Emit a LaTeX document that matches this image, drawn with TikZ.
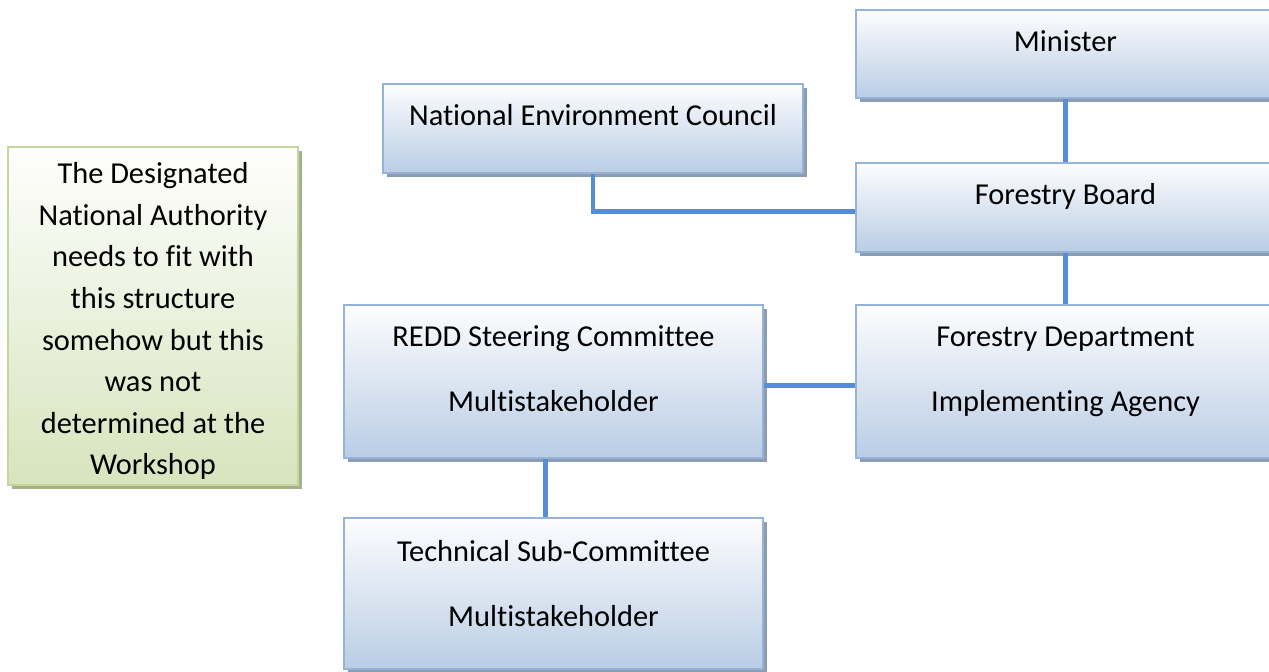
\documentclass[tikz,border=0pt]{standalone}
\usepackage{fontspec}
\setmainfont{Carlito}[Ligatures=NoCommon]
\usetikzlibrary{positioning,shadows}
\definecolor{boxline}{HTML}{95B3D7}
\definecolor{boxtop}{HTML}{FDFDFE}
\definecolor{boxbottom}{HTML}{B9CDE5}
\definecolor{boxshadow}{HTML}{8B9CB3}
\definecolor{noteline}{HTML}{C3D69B}
\definecolor{notetop}{HTML}{FEFEFD}
\definecolor{notebottom}{HTML}{D7E4BD}
\definecolor{noteshadow}{HTML}{A3B28B}
\definecolor{linkblue}{HTML}{558ED5}

\begin{document}
\begin{tikzpicture}[
					x=0.5pt, y=-0.5pt,
					orgbox/.style={
							rectangle,
							draw=boxline,
							line width=1.2pt,
							top color=boxtop,
							bottom color=boxbottom,
							minimum width=209.5pt,
							inner sep=0pt,
							drop shadow={shadow xshift=1.8pt, shadow yshift=-1.8pt, fill=boxshadow, opacity=1}
						},
					notebox/.style={
							orgbox,
							draw=noteline,
							top color=notetop,
							bottom color=notebottom,
							minimum width=145pt,
							drop shadow={shadow xshift=1.8pt, shadow yshift=-1.8pt, fill=noteshadow, opacity=1}
						},
					boxtext/.style={
							font=\fontsize{15.2}{20.8}\selectfont,
							align=center,
							inner sep=0pt,
							anchor=base
						},
					link/.style={
							draw=linkblue,
							line width=2.4pt
						}
				]
				\useasboundingbox (0,0) rectangle (1269,671);

				% boxes of the chart
				\node[orgbox, minimum height=44pt] (minister) at (1065.5, 54) {};
				\node[orgbox, minimum height=44.5pt] (board) at (1065.5, 207.5) {};
				\node[orgbox, minimum height=76.5pt] (dept) at (1065.5, 381.5) {};
				\node[orgbox, minimum width=210pt, minimum height=44.5pt] (council) at (593, 128.5) {};
				\node[orgbox, minimum height=76.5pt] (redd) at (553.5, 381.5) {};
				\node[orgbox, minimum height=75.5pt] (tsc) at (553.5, 593.5) {};
				\node[notebox, minimum height=169pt] (note) at (153, 316) {};

				% texts (base = last line)
				\node[boxtext] (ministerT) at ([yshift=-21.5pt]minister.north) {Minister};
				\node[boxtext] (boardT) at ([yshift=-21.5pt]board.north) {Forestry Board};
				\node[boxtext] (councilT) at ([yshift=-21.5pt]council.north) {National Environment Council};
				\node[boxtext] (deptT) at ([yshift=-54pt]dept.north) {Forestry Department\\[11.7pt] Implementing Agency};
				\node[boxtext] (reddT) at ([yshift=-54pt]redd.north) {REDD Steering Committee\\[11.7pt] Multistakeholder};
				\node[boxtext] (tscT) at ([yshift=-55pt]tsc.north) {Technical Sub-Committee\\[11.7pt] Multistakeholder};
				\node[boxtext] (noteT) at ([yshift=-164.5pt]note.north) {
				The Designated\\
				National Authority\\
				needs to fit with\\
				this structure\\
				somehow but this\\
				was not\\
				determined at the\\
				Workshop
				};

				% connectors
				\draw[link] (minister.south) -- (board.north);
				\draw[link] (council.south) |- ([yshift=-2pt]board.west);
				\draw[link] (board.south) -- (dept.north);
				\draw[link] ([yshift=-2pt]redd.east) -- ([yshift=-2pt]dept.west);
				\draw[link] ([xshift=-4pt]redd.south) -- ([xshift=-4pt]tsc.north);
		\end{tikzpicture}
\end{document}
